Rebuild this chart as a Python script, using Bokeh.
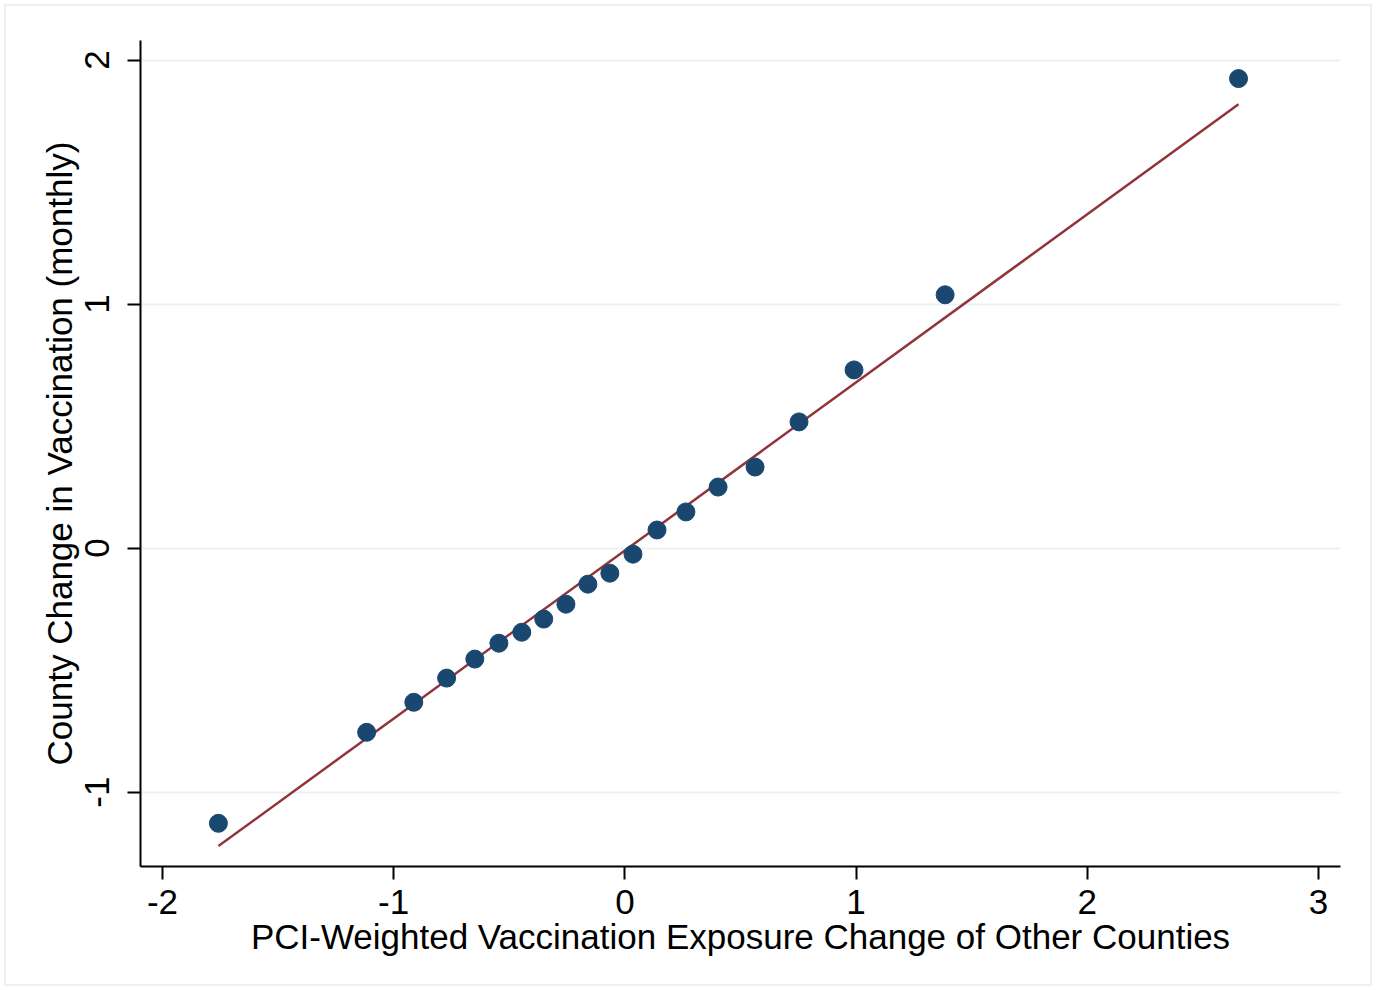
from bokeh.plotting import figure
from bokeh.models import Range1d, FixedTicker
from bokeh.embed import file_html
from bokeh.resources import INLINE

# Binned scatter values
bin_x = [-1.758, -1.117, -0.913, -0.771, -0.649, -0.545, -0.446, -0.351, -0.255, -0.160,
         -0.065, 0.035, 0.139, 0.264, 0.403, 0.563, 0.753, 0.991, 1.385, 2.654]
bin_y = [-1.128, -0.755, -0.632, -0.533, -0.455, -0.390, -0.345, -0.291, -0.230, -0.148,
         -0.103, -0.025, 0.074, 0.148, 0.250, 0.332, 0.517, 0.730, 1.038, 1.924]

# Linear fit
fit_slope = 0.689
fit_intercept = -0.010

x_ticks = [-2, -1, 0, 1, 2, 3]
y_ticks = [-1, 0, 1, 2]

x_title = "PCI-Weighted Vaccination Exposure Change of Other Counties"
y_title = "County Change in Vaccination (monthly)"

FONT = "Liberation Sans"

p = figure(width=1368, height=982, output_backend="svg", toolbar_location=None,
           x_range=Range1d(-2.095, 3.095), y_range=Range1d(-1.305, 2.08),
           min_border_left=134, min_border_right=34, min_border_top=34, min_border_bottom=122)
p.margin = (4, 0, 0, 4)
p.styles = {"border": "2px solid #EAF2F3"}
p.outline_line_color = None
p.background_fill_color = "white"
p.border_fill_color = "white"

p.xgrid.grid_line_color = None
p.ygrid.grid_line_color = "#EAF2F3"
p.ygrid.grid_line_width = 2

for ax in (p.xaxis[0], p.yaxis[0]):
    ax.axis_line_color = "black"
    ax.axis_line_width = 2
    ax.major_tick_line_color = "black"
    ax.major_tick_line_width = 2
    ax.major_tick_out = 13
    ax.major_tick_in = 0
    ax.minor_tick_line_color = None
    ax.major_label_text_font = FONT
    ax.major_label_text_font_size = "35px"
    ax.major_label_text_color = "black"
    ax.axis_label_text_font = FONT
    ax.axis_label_text_font_size = "35px"
    ax.axis_label_text_font_style = "normal"
    ax.axis_label_text_color = "black"

p.xaxis.ticker = FixedTicker(ticks=x_ticks)
p.yaxis.ticker = FixedTicker(ticks=y_ticks)
p.xaxis.major_label_overrides = {t: str(t) for t in x_ticks}
p.yaxis.major_label_overrides = {t: str(t) for t in y_ticks}
p.xaxis.axis_label = x_title
p.yaxis.axis_label = y_title
p.yaxis.major_label_orientation = "parallel"
p.xaxis.major_label_standoff = 10
p.yaxis.major_label_standoff = 18
p.xaxis.axis_label_standoff = 0
p.yaxis.axis_label_standoff = 4

x0 = min(bin_x)
x1 = max(bin_x)
p.line([x0, x1], [fit_slope * x0 + fit_intercept, fit_slope * x1 + fit_intercept],
       line_color="#90353B", line_width=2.5)
p.scatter(bin_x, bin_y, size=18, fill_color="#1A476F", line_color="#1A476F")

open("out.html", "w").write(file_html(p, INLINE))
